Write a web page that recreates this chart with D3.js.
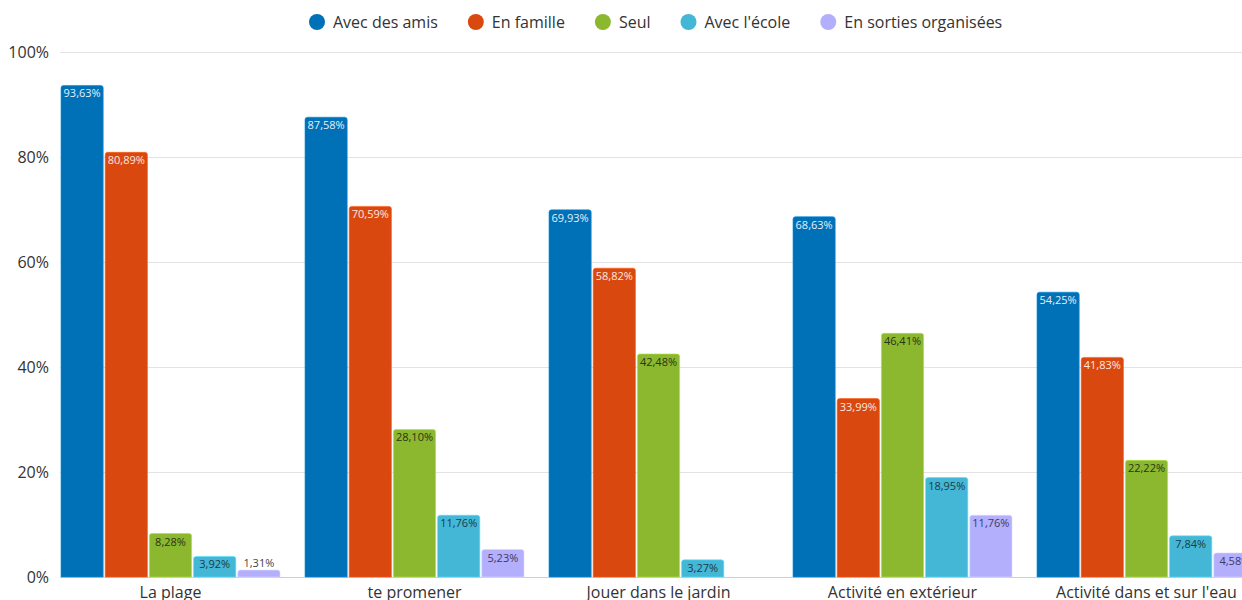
<!DOCTYPE html>
<html>
<head>
<meta charset="utf-8">
<script src="https://cdn.jsdelivr.net/npm/d3@7"></script>
<style>
  html, body { margin: 0; padding: 0; background: #fff; overflow: hidden; }
  svg { display: block; font-family: "Open Sans", "Noto Sans", sans-serif; }
</style>
</head>
<body>
<svg id="chart" width="1242" height="600"></svg>
<script>
const categories = ["La plage", "te promener", "Jouer dans le jardin", "Activité en extérieur", "Activité dans et sur l'eau"];
const seriesNames = ["Avec des amis", "En famille", "Seul", "Avec l'école", "En sorties organisées"];
const avecDesAmis = [93.63, 87.58, 69.93, 68.63, 54.25];
const enFamille = [80.89, 70.59, 58.82, 33.99, 41.83];
const seul = [8.28, 28.10, 42.48, 46.41, 22.22];
const avecEcole = [3.92, 11.76, 3.27, 18.95, 7.84];
const sortiesOrganisees = [1.31, 5.23, null, 11.76, 4.58];
const yTicks = [0, 20, 40, 60, 80, 100];

const colors = ["#0071b6", "#d9480f", "#8cb82f", "#43b7d5", "#b3affd"];
const labelColors = ["#e6eef8", "#fbe9e0", "#2a3315", "#1d3a45", "#3d3a5c"];
const seriesValues = [avecDesAmis, enFamille, seul, avecEcole, sortiesOrganisees];

const svg = d3.select("#chart");
const margin = {top: 52, left: 60, bottom: 577};

const y = d3.scaleLinear().domain([0, 100]).range([577, 52]);
const x0 = d3.scaleBand().domain(categories).range([48.5, 1268.5]).paddingInner(25/244).paddingOuter(25/488);
const x1 = d3.scaleBand().domain(seriesNames).range([0, x0.bandwidth()]).paddingInner(0.045);

// gridlines
svg.append("g").selectAll("line").data(yTicks).join("line")
  .attr("x1", 60).attr("x2", 1270)
  .attr("y1", d => Math.round(y(d)) + 0.5).attr("y2", d => Math.round(y(d)) + 0.5)
  .attr("stroke", d => d === 0 ? "#cfcfcf" : "#e3e3e3").attr("stroke-width", 1);

// y labels
svg.append("g").selectAll("text").data(yTicks).join("text")
  .attr("x", 49).attr("y", d => y(d) + 5.5)
  .attr("text-anchor", "end").attr("font-size", 16).attr("fill", "#333")
  .text(d => d + "%");

const fmt = v => v.toFixed(2).replace(".", ",") + "%";

function topRoundedRect(x, yTop, w, h, r) {
  r = Math.min(r, h, w / 2);
  return `M${x},${yTop + h}V${yTop + r}Q${x},${yTop} ${x + r},${yTop}H${x + w - r}Q${x + w},${yTop} ${x + w},${yTop + r}V${yTop + h}Z`;
}

const groups = svg.append("g").selectAll("g").data(categories).join("g")
  .attr("transform", d => `translate(${x0(d)},0)`);

groups.each(function(cat, ci) {
  const g = d3.select(this);
  seriesNames.forEach((s, si) => {
    const v = seriesValues[si][ci];
    if (v === null || v === undefined) return;
    const bx = x1(s), bw = x1.bandwidth();
    const top = y(v), h = y(0) - y(v);
    g.append("path")
      .attr("d", topRoundedRect(bx, top, bw, h, 2.5))
      .attr("fill", colors[si])
      .attr("stroke", d3.color(colors[si]).brighter(0.6))
      .attr("stroke-width", 0.6);
    const inside = h >= 14;
    g.append("text")
      .attr("x", bx + bw / 2)
      .attr("y", inside ? top + 12 : top - 3)
      .attr("text-anchor", "middle")
      .attr("font-size", 11)
      .attr("fill", inside ? labelColors[si] : "#444")
      .text(fmt(v));
  });
});

// category labels
svg.append("g").selectAll("text").data(categories).join("text")
  .attr("x", d => x0(d) + x0.bandwidth() / 2)
  .attr("y", 598)
  .attr("text-anchor", "middle").attr("font-size", 16).attr("fill", "#333")
  .text(d => d);

// legend
const legend = svg.append("g");
let lx = 317;
seriesNames.forEach((s, i) => {
  legend.append("circle").attr("cx", lx).attr("cy", 22).attr("r", 8).attr("fill", colors[i]);
  const t = legend.append("text").attr("x", lx + 16).attr("y", 27.5)
    .attr("font-size", 16).attr("fill", "#333").text(s);
  const w = t.node().getComputedTextLength();
  lx = lx + 16 + w + 38;
});
</script>
</body>
</html>
